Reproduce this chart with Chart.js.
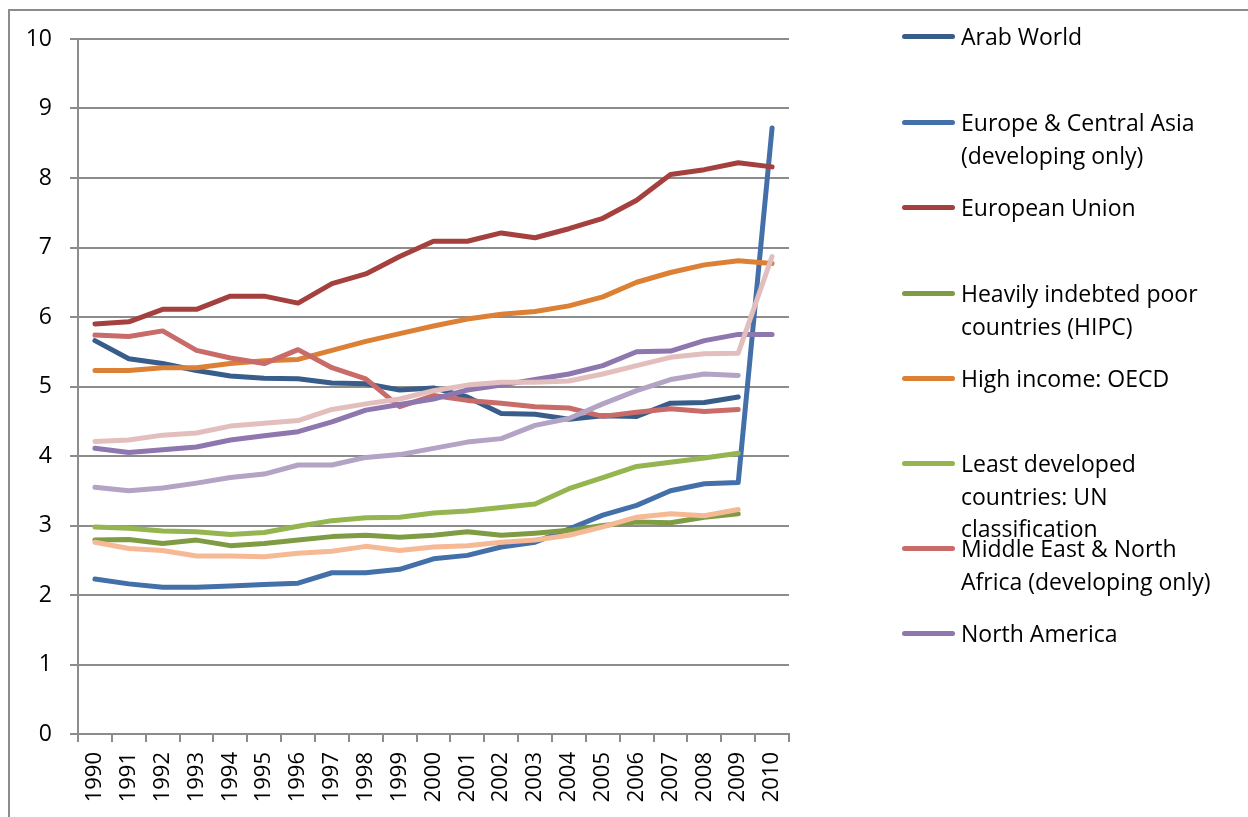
<!DOCTYPE html>
<html>
<head>
<meta charset="utf-8">
<script src="https://cdn.jsdelivr.net/npm/chart.js@4.4.1/dist/chart.umd.min.js"></script>
<style>
  html, body { margin:0; padding:0; background:#fff; }
  body { width:1248px; height:817px; position:relative; overflow:hidden; font-family:"Open Sans", sans-serif; }
  #frame { position:absolute; left:8px; top:9px; width:1400px; height:1000px; border:2px solid #8c8c8c; box-sizing:border-box; }
  #wrap { position:absolute; left:0; top:0; width:810px; height:817px; }
  #legend { position:absolute; left:0; top:0; width:1248px; height:817px; pointer-events:none; }
  .item { position:absolute; left:902px; }
  .swatch { position:absolute; left:0; width:53px; height:5px; border-radius:3px; }
  .txt { position:absolute; left:59px; white-space:nowrap; font-size:23px; line-height:32.5px; color:#000; }
</style>
</head>
<body>
<div id="frame"></div>
<div id="wrap"><canvas id="c" width="810" height="817"></canvas></div>
<div id="legend"></div>
<script>
const years = ['1990','1991','1992','1993','1994','1995','1996','1997','1998','1999','2000','2001','2002','2003','2004','2005','2006','2007','2008','2009','2010'];

const arabWorld   = [5.66,5.40,5.33,5.23,5.15,5.12,5.11,5.05,5.04,4.95,4.98,4.85,4.61,4.60,4.53,4.58,4.57,4.76,4.77,4.85,null];
const europeCA    = [2.23,2.16,2.11,2.11,2.13,2.15,2.17,2.32,2.32,2.37,2.52,2.57,2.69,2.76,2.95,3.15,3.29,3.50,3.60,3.62,8.72];
const europeanUn  = [5.90,5.93,6.11,6.11,6.30,6.30,6.20,6.48,6.62,6.87,7.09,7.09,7.21,7.14,7.27,7.42,7.68,8.05,8.12,8.22,8.16];
const hipc        = [2.79,2.80,2.74,2.79,2.71,2.74,2.79,2.84,2.86,2.83,2.86,2.91,2.86,2.89,2.93,3.00,3.05,3.04,3.12,3.17,null];
const highIncome  = [5.23,5.23,5.27,5.27,5.33,5.37,5.39,5.52,5.65,5.76,5.87,5.97,6.04,6.08,6.16,6.29,6.50,6.64,6.75,6.81,6.77];
const leastDev    = [2.98,2.96,2.92,2.91,2.87,2.90,2.99,3.07,3.11,3.12,3.18,3.21,3.26,3.31,3.53,3.69,3.85,3.91,3.97,4.04,null];
const mena        = [5.74,5.72,5.80,5.52,5.41,5.33,5.53,5.27,5.11,4.71,4.87,4.80,4.76,4.71,4.69,4.57,4.63,4.68,4.64,4.67,null];
const northAm     = [4.11,4.05,4.09,4.13,4.23,4.29,4.35,4.49,4.66,4.74,4.82,4.95,5.02,5.10,5.18,5.30,5.50,5.51,5.66,5.75,5.75];
const seriesPink  = [4.21,4.23,4.30,4.33,4.43,4.47,4.51,4.67,4.75,4.82,4.94,5.02,5.06,5.06,5.08,5.18,5.30,5.42,5.47,5.48,6.87];
const seriesLav   = [3.55,3.50,3.54,3.61,3.69,3.74,3.87,3.87,3.98,4.02,4.11,4.20,4.25,4.44,4.54,4.75,4.94,5.10,5.18,5.16,null];
const seriesPeach = [2.76,2.67,2.64,2.56,2.56,2.55,2.60,2.63,2.70,2.64,2.69,2.71,2.76,2.79,2.86,2.98,3.12,3.17,3.14,3.23,null];

const yTicks = [0,1,2,3,4,5,6,7,8,9,10];

const seriesNames = [
  ['Arab World'],
  ['Europe & Central Asia','(developing only)'],
  ['European Union'],
  ['Heavily indebted poor','countries (HIPC)'],
  ['High income: OECD'],
  ['Least developed','countries: UN','classification'],
  ['Middle East & North','Africa (developing only)'],
  ['North America'],
  ['OECD members'],
  ['World'],
  ['South Asia']
];
const seriesData = [arabWorld, europeCA, europeanUn, hipc, highIncome, leastDev, mena, northAm, seriesPink, seriesLav, seriesPeach];
const seriesColors = ['#385D8A','#4470A9','#A4403E','#7F9C45','#DB8035','#95B550','#C96B69','#8E76AE','#E2BEBD','#B3A3C5','#F6B996'];
const legendCount = 8;
const legendRowY = [36,122,207,293,378,463,548,633];

const datasets = seriesData.map((d,i)=>({
  label: seriesNames[i].join(' '),
  data: d,
  borderColor: seriesColors[i],
  backgroundColor: seriesColors[i],
  borderWidth: 5,
  pointRadius: 0,
  pointHoverRadius: 0,
  tension: 0,
  fill: false,
  spanGaps: false,
  borderCapStyle: 'round',
  borderJoinStyle: 'round',
  order: -i
}));

new Chart(document.getElementById('c'), {
  type: 'line',
  data: { labels: years, datasets },
  options: {
    responsive: false,
    animation: false,
    layout: { padding: { left: 0, top: 39, right: 21, bottom: 0 } },
    plugins: { legend: { display: false }, tooltip: { enabled: false } },
    scales: {
      x: {
        type: 'category',
        offset: true,
        grid: { offset: true, drawOnChartArea: false, drawTicks: true, tickLength: 8, color: '#8c8c8c', lineWidth: 2 },
        border: { color: '#8c8c8c', width: 2 },
        ticks: { minRotation: 90, maxRotation: 90, autoSkip: false, padding: 10, color: '#000', font: { family: 'Open Sans', size: 22 } },
        afterFit: s => { s.height = 83; }
      },
      y: {
        min: 0, max: 10,
        afterBuildTicks: s => { s.ticks = yTicks.map(v=>({value:v})); },
        grid: { color: '#8c8c8c', lineWidth: 2, tickLength: 8 },
        border: { color: '#8c8c8c', width: 2 },
        ticks: { padding: 18, color: '#000', font: { family: 'Open Sans', size: 23 } },
        afterFit: s => { s.width = 78; }
      }
    }
  }
});

const lg = document.getElementById('legend');
for (let i=0;i<legendCount;i++){
  const it = document.createElement('div');
  it.className='item';
  const top = legendRowY[i] - 16;
  it.style.top = top+'px';
  const sw = document.createElement('div');
  sw.className='swatch';
  sw.style.background = seriesColors[i];
  sw.style.top = (16-2.5)+'px';
  const tx = document.createElement('div');
  tx.className='txt';
  tx.innerHTML = seriesNames[i].map(s=>s.replace(/&/g,'&amp;')).join('<br>');
  it.appendChild(sw); it.appendChild(tx);
  lg.appendChild(it);
}
</script>
</body>
</html>
